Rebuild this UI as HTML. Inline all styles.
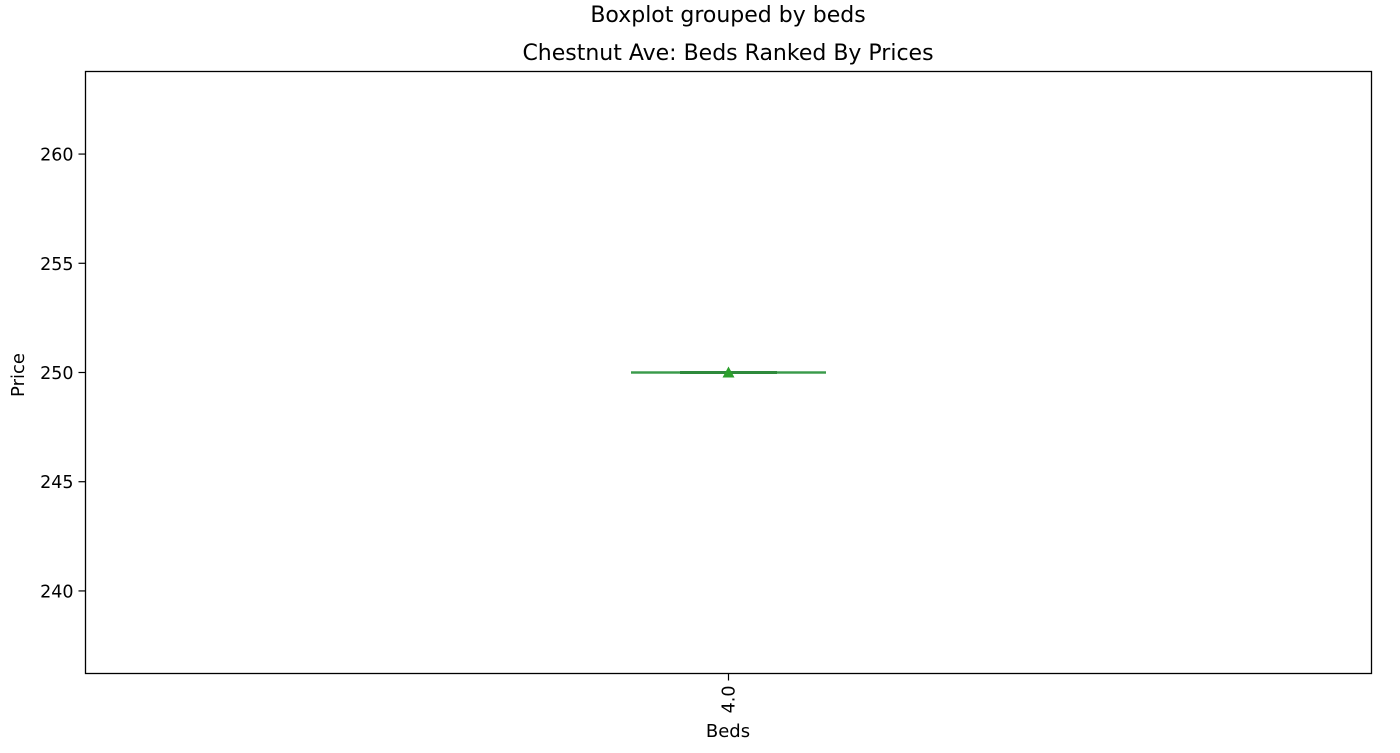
<!DOCTYPE html>
<html><head><meta charset="utf-8"><style>
body{margin:0;background:#fff;font-family:"DejaVu Sans","Liberation Sans",sans-serif;}
svg text{font-family:"DejaVu Sans","Liberation Sans",sans-serif;fill:#000;}
</style></head><body>
<svg id="chart" width="1400" height="749">
<text x="728" y="22" font-size="22" text-anchor="middle">Boxplot grouped by beds</text>
<text x="728" y="60" font-size="22" text-anchor="middle">Chestnut Ave: Beds Ranked By Prices</text>
<rect x="85.5" y="71.5" width="1286" height="602" fill="none" stroke="#000" stroke-width="1.3"/>
<g id="yt"></g>
<g id="xt"></g>
<g id="boxes"></g>
<text x="24" y="375" font-size="18" text-anchor="middle" transform="rotate(-90 24 375)">Price</text>
<text x="728" y="737" font-size="18" text-anchor="middle">Beds</text>
</svg>
<script>
const categories=["4.0"];
const minVals=[250];
const q1Vals=[250];
const medianVals=[250];
const q3Vals=[250];
const maxVals=[250];
const meanVals=[250];
const yTicks=[240,245,250,255,260];
const NS="http://www.w3.org/2000/svg";
const yMin=236.22,yMax=263.78,plotTop=71.5,plotBot=673.5,plotLeft=85.5,plotRight=1371.5;
function yScale(v){return plotBot-(v-yMin)/(yMax-yMin)*(plotBot-plotTop);}
function xScale(i){return plotLeft+(i+1)/(categories.length+1)*(plotRight-plotLeft);}
function mk(tag,attrs,parent){const e=document.createElementNS(NS,tag);for(const k in attrs)e.setAttribute(k,attrs[k]);parent.appendChild(e);return e;}
const yt=document.getElementById('yt');
yTicks.forEach(t=>{
 const l=mk('line',{x1:plotLeft-7,x2:plotLeft,y1:yScale(t),y2:yScale(t),stroke:'#000','stroke-width':1.2},yt);
 
 
 const tx=mk('text',{x:plotLeft-12,y:yScale(t)+6.5,'font-size':17.5,'text-anchor':'end'},yt);
 tx.textContent=t;
 
 
});
const xt=document.getElementById('xt');
const bx=document.getElementById('boxes');
categories.forEach((c,i)=>{
 const cx=xScale(i);
 const l=mk('line',{x1:cx,x2:cx,y1:plotBot,y2:plotBot+7,stroke:'#000','stroke-width':1.2},xt);
 
 
 const tx=mk('text',{x:cx+6,y:plotBot+12,'font-size':17.5,'text-anchor':'end',transform:`rotate(-90 ${cx+6} ${plotBot+12})`},xt);
 tx.textContent=c;
 
 
 const bw=97,cw=195;
 const g=mk('g',{},bx);
 
 
 mk('line',{x1:cx,x2:cx,y1:yScale(minVals[i]),y2:yScale(q1Vals[i]),stroke:'#3a9a4a','stroke-width':2},g);
 mk('line',{x1:cx,x2:cx,y1:yScale(q3Vals[i]),y2:yScale(maxVals[i]),stroke:'#3a9a4a','stroke-width':2},g);
 mk('line',{x1:cx-cw/2,x2:cx+cw/2,y1:yScale(minVals[i]),y2:yScale(minVals[i]),stroke:'#3a9a4a','stroke-width':2.2},g);
 mk('line',{x1:cx-cw/2,x2:cx+cw/2,y1:yScale(maxVals[i]),y2:yScale(maxVals[i]),stroke:'#3a9a4a','stroke-width':2.2},g);
 mk('rect',{x:cx-bw/2,y:yScale(q3Vals[i])-1.5,width:bw,height:yScale(q1Vals[i])-yScale(q3Vals[i])+3,fill:'#2f8a3c',stroke:'none'},g);
 mk('line',{x1:cx-bw/2,x2:cx+bw/2,y1:yScale(medianVals[i]),y2:yScale(medianVals[i]),stroke:'#2f8a3c','stroke-width':3},g);
 const my=yScale(meanVals[i]);
 mk('polygon',{points:`${cx-6},${my+5} ${cx+6},${my+5} ${cx},${my-6}`,fill:'#2ca02c'},g);
});
</script>
</body></html>
